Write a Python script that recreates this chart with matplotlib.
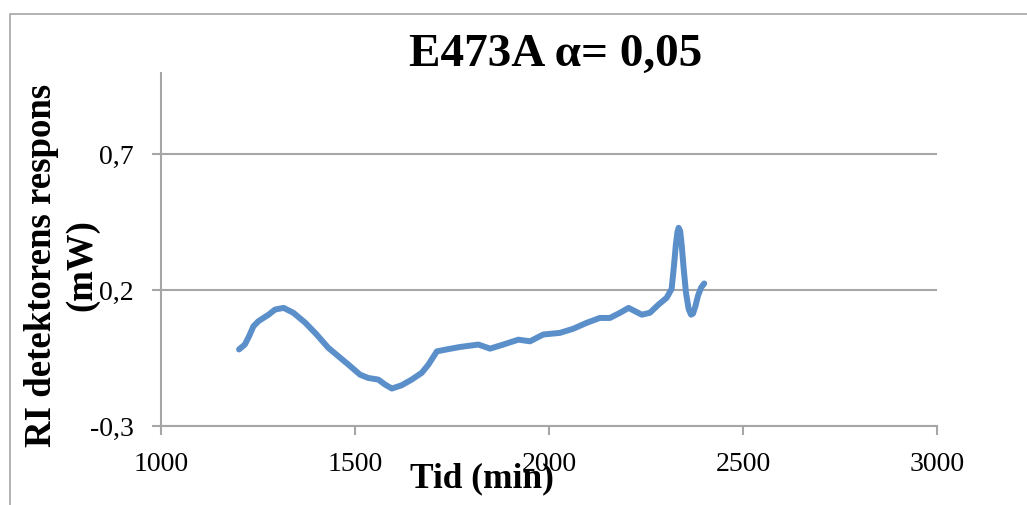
import matplotlib.pyplot as plt
from matplotlib.patches import Rectangle
from matplotlib.ticker import FuncFormatter

# (Tid in min, RI respons in mW)
tid = [1201, 1216, 1227, 1238, 1251, 1277, 1294, 1316, 1341, 1372, 1401,
       1431, 1457, 1483, 1513, 1534, 1560, 1577, 1595, 1620, 1646, 1672,
       1689, 1711, 1736, 1770, 1818, 1848, 1882, 1921, 1951, 1985, 2028,
       2062, 2097, 2131, 2157, 2183, 2205, 2239, 2260, 2282, 2303, 2316,
       2322, 2327, 2331, 2334, 2338, 2342, 2347, 2353, 2360, 2366, 2371,
       2377, 2384, 2392, 2400]
respons = [-0.018, 0.000, 0.031, 0.067, 0.086, 0.110, 0.129, 0.135, 0.117,
           0.080, 0.037, -0.012, -0.043, -0.074, -0.111, -0.123, -0.129,
           -0.147, -0.162, -0.150, -0.129, -0.104, -0.074, -0.025, -0.018,
           -0.009, 0.000, -0.015, 0.000, 0.018, 0.012, 0.037, 0.043, 0.058,
           0.080, 0.098, 0.098, 0.117, 0.135, 0.110, 0.117, 0.147, 0.172,
           0.205, 0.290, 0.370, 0.415, 0.430, 0.418, 0.365, 0.280, 0.190,
           0.130, 0.110, 0.114, 0.140, 0.180, 0.210, 0.225]

xticks = [1000, 1500, 2000, 2500, 3000]
yticks = [-0.3, 0.2, 0.7]

serif = ['Liberation Serif', 'DejaVu Serif']
grey = '#a6a6a6'

fig = plt.figure(figsize=(10.27, 5.05), dpi=100)
ax = fig.add_axes([0.1568, 0.1564, 0.7556, 0.699])

# outer chart frame, runs off the right and bottom edge
fig.patches.append(Rectangle((10 / 1027, -0.1), 1.2, (505 - 14) / 505 + 0.1,
                             transform=fig.transFigure, fill=False,
                             edgecolor=grey, lw=1.2))

ax.plot(tid, respons, color='#5b8fca', lw=4.3, solid_capstyle='round',
        solid_joinstyle='round')

ax.set_xlim(1000, 3000)
ax.set_ylim(-0.3, 1.0)
ax.set_xticks(xticks)
ax.set_yticks(yticks)
ax.yaxis.set_major_formatter(FuncFormatter(lambda v, p: f'{v:.1f}'.replace('.', ',')))
ax.grid(axis='y', color=grey, lw=1.5)
ax.set_axisbelow(True)

for s in ['top', 'right']:
    ax.spines[s].set_visible(False)
for s in ['left', 'bottom']:
    ax.spines[s].set_color(grey)
    ax.spines[s].set_linewidth(1.5)

ax.tick_params(axis='both', colors=grey, width=1.5, length=6.5, labelcolor='black')
ax.tick_params(axis='y', pad=13)
ax.tick_params(axis='x', pad=12)
for lab in ax.get_xticklabels() + ax.get_yticklabels():
    lab.set_family(serif)
    lab.set_fontsize(20)

fig.text(0.541, 0.87, 'E473A α= 0,05', family=serif, fontsize=34,
         fontweight='bold', ha='center', va='baseline')
fig.text(0.469, 0.035, 'Tid (min)', family=serif, fontsize=25.5,
         fontweight='bold', ha='center', va='baseline')
fig.text(0.06, 0.475, 'RI detektorens respons\n(mW)', family=serif,
         fontsize=26.5, fontweight='bold', rotation=90, ha='center',
         va='center', multialignment='center', linespacing=1.2)

fig.savefig('out.png', dpi=100)
